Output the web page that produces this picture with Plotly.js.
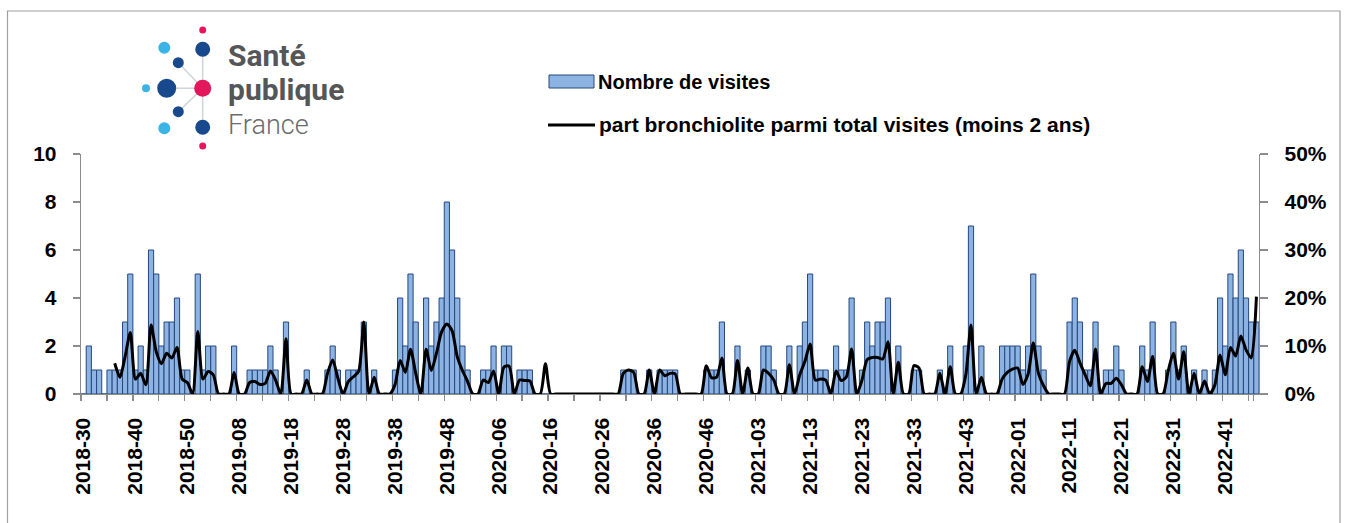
<!DOCTYPE html>
<html><head><meta charset="utf-8">
<script src="https://cdn.plot.ly/plotly-3.0.1.min.js"></script>
<style>html,body{margin:0;padding:0;background:#fff}#chart{width:1347px;height:523px}</style>
</head><body><div id="chart"></div>
<script>
// ---- categories (ISO weeks 2018-30 .. 2022-47) ----
const startYear = 2018, startWeek = 30, endYear = 2022, endWeek = 47;
const weeksInYear = {2018: 52, 2019: 52, 2020: 53, 2021: 52, 2022: 52};
const weeks = [];
for (let y = startYear; y <= endYear; y++) {
  const w0 = y === startYear ? startWeek : 1;
  const w1 = y === endYear ? endWeek : weeksInYear[y];
  for (let w = w0; w <= w1; w++) weeks.push(y + '-' + String(w).padStart(2, '0'));
}

// ---- Nombre de visites ----
const visits2018 = [0,2,1,1,0,1,1,1,3,5,1,2,1,6,5,2,3,3,4,1,1,0,5];
const visits2019 = [1,2,2,0,0,0,2,0,0,1, 1,1,1,2,1,0,3,0,0,0, 1,0,0,0,1,2,1,0,1,1,
                    1,3,0,1,0,0,0,1,4,2, 5,3,0,4,2,3,4,8,6,4, 2,1];
const visits2020 = [0,0,1,1,2,0,2,2,0,1, 1,1,0,0,0,0,0,0,0,0, 0,0,0,0,0,0,0,0,0,1,
                    1,1,0,0,1,0,1,1,1,1, 0,0,0,0,0,1,1,1,3,0, 0,2,0];
const visits2021 = [1,0,0,2,2,1,0,0,2,0, 2,3,5,1,1,1,0,2,1,1, 4,0,1,3,2,3,3,4,0,2,
                    0,0,1,1,0,0,0,1,0,2, 0,0,2,7,0,2,0,0,0,2, 2,2];
const visits2022 = [2,1,2,5,2,1,0,0,0,0, 3,4,3,1,1,3,0,1,1,2, 1,0,0,0,2,1,3,0,0,1,
                    3,1,2,0,1,0,1,0,1,4, 2,5,4,6,4,3,3];

// ---- part bronchiolite parmi total visites (moins 2 ans), en % ----
const share2018 = [null,null,null,null,null,null,6.4,3.5,7.8,12.8,3.1,4.3,1.9,14.4,8.8,6.3,8.5,7.5,9.7,3.1,2.4,0,13.0];
const share2019 = [3.1,4.7,4.0,0,0,0,4.5,0,0,2.4, 2.6,2.0,2.2,4.8,2.9,0,11.5,0,0,0,
                   2.9,0,0,0,4.3,7.1,3.3,0,2.6,3.6, 4.7,15.0,0,3.5,0,0,0,1.9,7.0,4.5,
                   9.3,4.3,0,9.3,4.9,8.5,13.0,14.6,13.2,7.8, 4.9,2.6];
const share2020 = [0,0,2.9,2.4,4.8,0,5.6,5.8,0,2.9, 2.8,2.7,0,0,6.3,0,0,0,0,0,
                   0,0,0,0,0,0,0,0,0,4.3, 5.0,4.5,0,0,5.0,0,5.0,3.8,4.3,4.2,
                   0,0,0,0,0,5.9,3.4,3.5,7.5,0, 0,7.0,0];
const share2021 = [5.4,0,0,5.0,4.3,2.9,0,0,6.1,0, 4.0,6.8,10.4,2.9,3.1,2.9,0,4.8,2.8,3.6,
                   9.4,0,2.9,7.2,7.6,7.6,7.3,10.9,0,6.6, 0,0,5.9,5.4,0,0,0,4.3,0,5.7,
                   0,0,4.0,14.4,0,3.5,0,0,0,3.1, 4.5,5.2];
const share2022 = [5.4,2.0,4.1,10.6,4.3,1.7,0,0,0,0, 6.8,9.1,6.5,4.0,1.7,9.4,0,2.2,2.2,3.3,
                   1.9,0,0,0,5.7,2.6,7.8,0,0,4.8, 8.5,3.1,8.8,0,4.3,0,2.7,0,1.9,8.1,
                   4.0,9.7,7.9,12.1,9.2,7.5,20.3];

const visits = [].concat(visits2018, visits2019, visits2020, visits2021, visits2022);
const share = [].concat(share2018, share2019, share2020, share2021, share2022);

// tick marks every 5 weeks, labels every 10 weeks
const tickVals = weeks.filter((_, i) => i % 5 === 0);
const tickText = tickVals.map((w, k) => (k % 2 === 0 ? w : ''));

const legendLabels = ['Nombre de visites', 'part bronchiolite parmi total visites (moins 2 ans)'];
const leftTicks = [0, 2, 4, 6, 8, 10];
const rightTicks = [0, 10, 20, 30, 40, 50];
const rightTickText = ['0%', '10%', '20%', '30%', '40%', '50%'];

// ---- geometry helpers (page pixels -> paper) ----
const W = 1347, H = 523;
const M = {l: 81, r: 88, t: 154, b: 129};
const PW = W - M.l - M.r, PH = H - M.t - M.b;
const px = x => (x - M.l) / PW;
const py = y => (H - M.b - y) / PH;

const FONT = 'Liberation Sans, Arial, sans-serif';
const AXIS_GREY = '#8c8c8c';
const BAR_FILL = '#8db3e2', BAR_LINE = '#24487f';

const traces = [
  {
    type: 'bar', x: weeks, y: visits, name: legendLabels[0],
    marker: {color: BAR_FILL, line: {color: BAR_LINE, width: 1}},
    hoverinfo: 'x+y'
  },
  {
    type: 'scatter', mode: 'lines', x: weeks, y: share, name: legendLabels[1], yaxis: 'y2',
    line: {color: '#000000', width: 3, shape: 'spline', smoothing: 0.7},
    connectgaps: false, cliponaxis: true
  }
];

// ---- logo & legend & frame shapes ----
const DARK = '#17498c', LIGHT = '#3ab4e4', PINK = '#e2175c';
const dots = [
  [202.7, 30, 3.5, PINK], [164.3, 47.7, 6, LIGHT], [202.7, 49.3, 7.5, DARK],
  [178.3, 62.7, 5.5, DARK], [146, 88.3, 4, LIGHT], [166.7, 88.3, 9.5, DARK],
  [202.7, 88.3, 8.5, PINK], [178.3, 111.7, 5.5, DARK], [164.3, 128.3, 6, LIGHT],
  [202.7, 127.3, 7.5, DARK], [202.7, 146, 3.5, PINK]
];
const shapes = [];
// frame
shapes.push({type: 'rect', xref: 'paper', yref: 'paper', x0: px(7.5), x1: px(1340), y0: py(540), y1: py(11),
  line: {color: '#a0a0a0', width: 1.2}, fillcolor: 'rgba(0,0,0,0)', layer: 'below'});
// logo connector lines
[[166.7, 88.3], [178.3, 62.7], [178.3, 111.7], [202.7, 49.3], [202.7, 127.3]].forEach(p => {
  shapes.push({type: 'line', xref: 'paper', yref: 'paper', x0: px(202.7), y0: py(88.3), x1: px(p[0]), y1: py(p[1]),
    line: {color: '#cfd3da', width: 1.5}});
});
dots.forEach(d => {
  shapes.push({type: 'circle', xref: 'paper', yref: 'paper', x0: px(d[0] - d[2]), x1: px(d[0] + d[2]),
    y0: py(d[1] + d[2]), y1: py(d[1] - d[2]), fillcolor: d[3], line: {width: 0}});
});
// legend symbols
shapes.push({type: 'rect', xref: 'paper', yref: 'paper', x0: px(549), x1: px(594), y0: py(88), y1: py(75),
  fillcolor: BAR_FILL, line: {color: BAR_LINE, width: 1}});
shapes.push({type: 'line', xref: 'paper', yref: 'paper', x0: px(548), x1: px(595), y0: py(125), y1: py(125),
  line: {color: '#000', width: 3}});

const annotations = [
  {text: 'Santé', x: px(226), y: py(56), font: {family: 'Roboto, sans-serif', size: 30, color: '#555658', weight: 'bold'}},
  {text: 'publique', x: px(226), y: py(89), font: {family: 'Roboto, sans-serif', size: 30, color: '#555658', weight: 'bold'}},
  {text: 'France', x: px(226), y: py(125), font: {family: 'Roboto, sans-serif', size: 27, color: '#6a6b6e', weight: 300}},
  {text: legendLabels[0], x: px(596), y: py(82), font: {family: FONT, size: 20, color: '#000', weight: 'bold'}},
  {text: legendLabels[1], x: px(597), y: py(124), font: {family: FONT, size: 21, color: '#000', weight: 'bold'}}
].map(a => Object.assign({xref: 'paper', yref: 'paper', xanchor: 'left', yanchor: 'middle', showarrow: false}, a));

const tickFont = {family: FONT, size: 21, color: '#000', weight: 'bold'};

const layout = {
  width: W, height: H,
  margin: M,
  paper_bgcolor: '#ffffff', plot_bgcolor: '#ffffff',
  showlegend: false,
  bargap: 0,
  font: {family: FONT},
  xaxis: {
    type: 'category', range: [-0.5, weeks.length - 0.5],
    tickmode: 'array', tickvals: tickVals, ticktext: tickText, tickson: 'boundaries',
    ticks: 'outside', ticklen: 6, tickwidth: 1.3, tickcolor: AXIS_GREY, tickangle: -90,
    ticklabelstandoff: 14,
    tickfont: tickFont,
    showline: true, linecolor: AXIS_GREY, linewidth: 1.3, showgrid: false, zeroline: false
  },
  yaxis: {
    range: [0, 10], tickmode: 'array', tickvals: leftTicks,
    ticks: 'outside', ticklen: 7, tickwidth: 1.3, tickcolor: AXIS_GREY, ticklabelstandoff: 12,
    tickfont: tickFont,
    showline: true, linecolor: AXIS_GREY, linewidth: 1.3, showgrid: false, zeroline: false
  },
  yaxis2: {
    overlaying: 'y', side: 'right', range: [0, 50], tickmode: 'array', tickvals: rightTicks,
    ticktext: rightTickText,
    ticks: 'outside', ticklen: 8, tickwidth: 1.3, tickcolor: AXIS_GREY, ticklabelstandoff: 12,
    tickfont: tickFont,
    showline: true, linecolor: AXIS_GREY, linewidth: 1.3, showgrid: false, zeroline: false
  },
  shapes: shapes,
  annotations: annotations
};

Plotly.newPlot('chart', traces, layout, {displayModeBar: false, staticPlot: true});
</script>
</body></html>
